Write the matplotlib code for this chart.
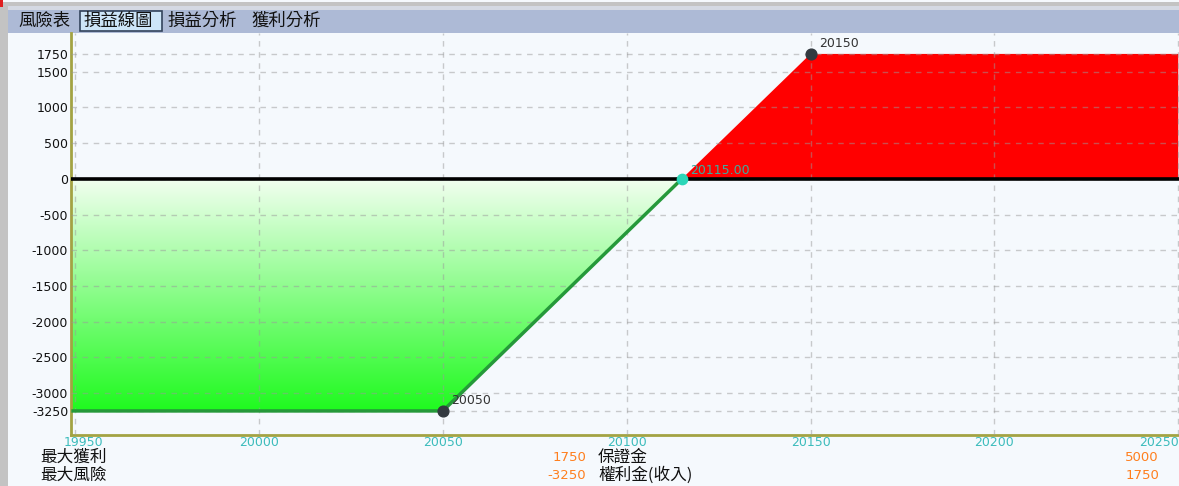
import matplotlib
matplotlib.use("Agg")
import matplotlib.pyplot as plt
import matplotlib.transforms as mtransforms
import numpy as np
from matplotlib.patches import Rectangle

W, H = 1179, 486

# data
payoff_x = [19949, 20050, 20150, 20250]
payoff_y = [-3250, -3250, 1750, 1750]
breakeven = 20115.00
corner_x = [20050, 20150]
corner_y = [-3250, 1750]
x_ticks = [19950, 20000, 20050, 20100, 20150, 20200, 20250]
y_ticks = [1750, 1500, 1000, 500, 0, -500, -1000, -1500, -2000, -2500, -3000, -3250]
tabs = ["風險表", "損益線圖", "損益分析", "獲利分析"]
left_names = ["最大獲利", "最大風險"]
left_values = ["1750", "-3250"]
right_names = ["保證金", "權利金(收入)"]
right_values = ["5000", "1750"]

CJK = ["Noto Sans CJK TC", "DejaVu Sans"]
BG = "#f5f9fd"
OLIVE = "#a3a343"
TEAL = "#3cbcbc"
ORANGE = "#ff7f1e"


def px(x, y, w, h):
    # pixel box (top-left origin) -> figure fraction rect
    return (x / W, 1 - (y + h) / H), w / W, h / H


fig = plt.figure(figsize=(W / 100, H / 100), dpi=100, facecolor=BG)

# window chrome
for (x, y, w, h, c) in [
    (0, 2, W, 4, "#c3c3c3"),
    (0, 6, W, 4, "#d4d9e3"),
    (0, 10, W, 23, "#adbad6"),
    (0, 6, 8, H, "#c3c3c3"),
    (0, 0, 3, 7, "#e02020"),
]:
    xy, ww, hh = px(x, y, w, h)
    fig.add_artist(Rectangle(xy, ww, hh, transform=fig.transFigure,
                             facecolor=c, edgecolor="none", zorder=0))

xy, ww, hh = px(80, 11, 82, 20)
fig.add_artist(Rectangle(xy, ww, hh, transform=fig.transFigure, facecolor="#cde5f8",
                         edgecolor="#33445c", linewidth=1.2, zorder=1))
for name, x in zip(tabs, [18, 84, 168, 251]):
    fig.text(x / W, 1 - 21 / H, name, family=CJK, fontsize=12.5, color="#111111",
             va="center", ha="left")

ax = fig.add_axes([71 / W, 1 - 435 / H, (W - 71) / W, (435 - 33) / H])
ax.set_facecolor(BG)
ax.set_xlim(19948.9, 20250.2)
ax.set_ylim(-3587, 2043)

px_arr = np.array(payoff_x, dtype=float)
py_arr = np.array(payoff_y, dtype=float)

# loss side: gradient fill clipped to the area under zero
loss = ax.fill_between(px_arr, py_arr, 0, where=py_arr <= 0, interpolate=True,
                       facecolor="none", edgecolor="none")
grad = np.linspace(0, 1, 256).reshape(-1, 1)
cmap = matplotlib.colors.LinearSegmentedColormap.from_list("g", ["#f2fff0", "#1ffa1f"])
im = ax.imshow(grad, cmap=cmap, aspect="auto", origin="upper",
               extent=[payoff_x[0], breakeven, min(payoff_y), 0], zorder=1)
im.set_clip_path(loss.get_paths()[0], transform=ax.transData)

# profit side
ax.fill_between(px_arr, py_arr, 0, where=py_arr >= 0, interpolate=True,
                facecolor="#ff0000", edgecolor="none", zorder=1)

neg_x = [payoff_x[0], payoff_x[1], breakeven]
neg_y = [payoff_y[0], payoff_y[1], 0]
ax.plot(neg_x, neg_y, color="#25993a", linewidth=2.5, zorder=3, solid_capstyle="butt")
ax.axhline(0, color="black", linewidth=2.6, zorder=3)

ax.scatter(corner_x, corner_y, s=60, color="#333a40", zorder=5)
ax.scatter([breakeven], [0], s=55, color="#2bd6b8", zorder=5)
for x, y in zip(corner_x, corner_y):
    ax.annotate(f"{x}", (x, y), xytext=(6, 3), textcoords="offset points",
                fontsize=9, color="#333333", va="bottom", ha="left")
ax.annotate(f"{breakeven:.2f}", (breakeven, 0), xytext=(6, 1), textcoords="offset points",
            fontsize=9, color="#3aaea0", va="bottom", ha="left")

ax.set_axisbelow(False)
ax.grid(True, linestyle=(0, (4, 4)), color="#9a9a9a", alpha=0.5, linewidth=1)
ax.set_xticks(x_ticks)
ax.set_yticks(y_ticks)
ax.set_yticklabels([str(v) for v in y_ticks], fontsize=9, color="#111111")
ax.set_xticklabels([str(v) for v in x_ticks], fontsize=9, color=TEAL)
ax.tick_params(axis="both", length=0, pad=2)
ax.tick_params(axis="x", pad=1)
labels = ax.get_xticklabels()
labels[0].set_transform(labels[0].get_transform() +
                        mtransforms.ScaledTranslation(8 / 100, 0, fig.dpi_scale_trans))
labels[-1].set_transform(labels[-1].get_transform() +
                         mtransforms.ScaledTranslation(-19 / 100, 0, fig.dpi_scale_trans))

for side in ["top", "right"]:
    ax.spines[side].set_visible(False)
for side in ["left", "bottom"]:
    ax.spines[side].set_color(OLIVE)
    ax.spines[side].set_linewidth(2)

# summary rows below the chart
for i, y in enumerate([457, 475]):
    yf = 1 - y / H
    fig.text(40 / W, yf, left_names[i], family=CJK, fontsize=12, color="#111111", va="center")
    fig.text(586 / W, yf, left_values[i], fontsize=9.5, color=ORANGE, va="center", ha="right")
    fig.text(598 / W, yf, right_names[i], family=CJK, fontsize=12, color="#111111", va="center")
    fig.text(1159 / W, yf, right_values[i], fontsize=9.5, color=ORANGE, va="center", ha="right")

fig.savefig("out.png", dpi=100, facecolor=BG)
